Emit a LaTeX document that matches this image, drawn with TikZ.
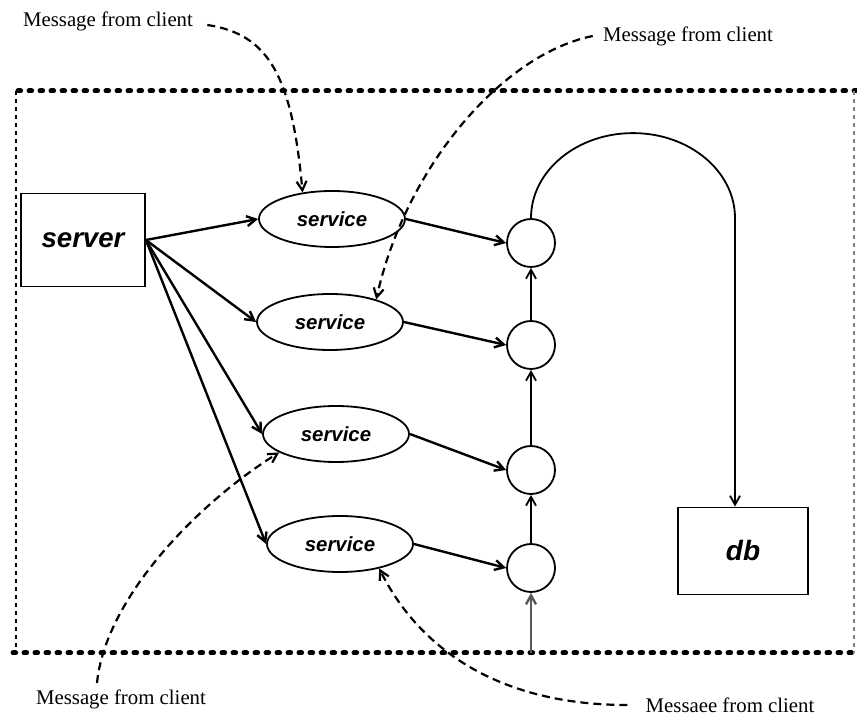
\documentclass[tikz,border=0pt]{standalone}
\usepackage{fontspec}
\setmainfont{Liberation Serif}
\newfontfamily\hvfont{Liberation Sans}
\usetikzlibrary{arrows.meta,shapes.geometric}
\begin{document}
\begin{tikzpicture}[x=0.5pt,y=0.5pt,
  tip/.style={-{Straight Barb[length=4.5pt,width=5pt]}},
  conn/.style={tip,line width=1.2pt},
  msg/.style={tip,line width=1.1pt,dash pattern=on 4pt off 2.5pt},
  boxnode/.style={draw,line width=0.9pt,inner sep=0pt},
  svc/.style={draw,ellipse,line width=0.9pt,minimum width=73pt,minimum height=28pt,inner sep=0pt,
    font=\hvfont\bfseries\itshape\fontsize{10.2}{12}\selectfont},
  junc/.style={draw,circle,line width=0.9pt,minimum size=24pt,inner sep=0pt},
  lbl/.style={font=\fontsize{10.4}{12}\selectfont,inner sep=1pt},
  heavydots/.style={line width=2.5pt,line cap=round,dash pattern=on 1.3pt off 4.2pt},
  lightdots/.style={line width=1pt,dash pattern=on 2pt off 2pt}]
\useasboundingbox (0,0) rectangle (857,-715);

% enclosing dotted frame
\draw[heavydots] (18,-91) -- (857,-91);
\draw[heavydots] (13,-653) -- (857,-653);
\draw[lightdots] (16,-91) -- (16,-653);
\draw[lightdots,gray] (854,-91) -- (854,-653);

% server and db
\node[boxnode,minimum width=62pt,minimum height=46.5pt,
  font=\hvfont\bfseries\itshape\fontsize{13.8}{16}\selectfont] (server) at (83,-240) {server};
\node[boxnode,minimum width=65pt,minimum height=43.5pt,
  font=\hvfont\bfseries\itshape\fontsize{14}{16}\selectfont] (db) at (743,-551) {db};

% services
\node[svc] (e1) at (332,-219) {service};
\node[svc] (e2) at (330,-322) {service};
\node[svc] (e3) at (336,-434) {service};
\node[svc] (e4) at (340,-544) {service};

% junctions
\node[junc] (c1) at (531,-243) {};
\node[junc] (c2) at (531,-345) {};
\node[junc] (c3) at (531,-470) {};
\node[junc] (c4) at (531,-568) {};

% labels
\node[lbl] (m1) at (108,-21) {Message from client};
\node[lbl] (m2) at (688,-36) {Message from client};
\node[lbl] (m3) at (121,-699) {Message from client};
\node[lbl] (m4) at (730,-705) {Messaee from client};

% server to services
\foreach \e in {e1,e2,e3,e4}
  \draw[conn] (server.east) -- (\e.west);

% services to junctions
\draw[conn] (e1.east) -- (c1.west);
\draw[conn] (e2.east) -- (c2.west);
\draw[conn] (e3.east) -- (c3.west);
\draw[conn] (e4.east) -- (c4.west);

% junction chain
\coordinate (inlet) at (531,-653);
\draw[conn,gray!70!black] (inlet) -- (c4.south);
\draw[conn,line width=0.9pt] (c4.north) -- (c3.south);
\draw[conn,line width=0.9pt] (c3.north) -- (c2.south);
\draw[conn,line width=0.9pt] (c2.north) -- (c1.south);

% loop over to db
\draw[conn,line width=0.9pt] (c1.north) arc[start angle=180,end angle=0,x radius=102,y radius=85]
  coordinate (arcend) -- (arcend |- db.north);

% client messages
\draw[msg] ([xshift=6pt,yshift=-2pt]m1.east) .. controls (268,-34) and (292,-75) .. (e1.138);
\draw[msg] ([xshift=-4pt]m2.west) .. controls (500,-55) and (405,-170) .. (e2.26);
\draw[msg] ([xshift=-12pt,yshift=2pt]m3.north) .. controls (105,-600) and (195,-505) .. (e3.198);
\draw[msg] ([xshift=-8pt]m4.west) .. controls (500,-705) and (420,-650) .. (e4.-32);
\end{tikzpicture}
\end{document}
